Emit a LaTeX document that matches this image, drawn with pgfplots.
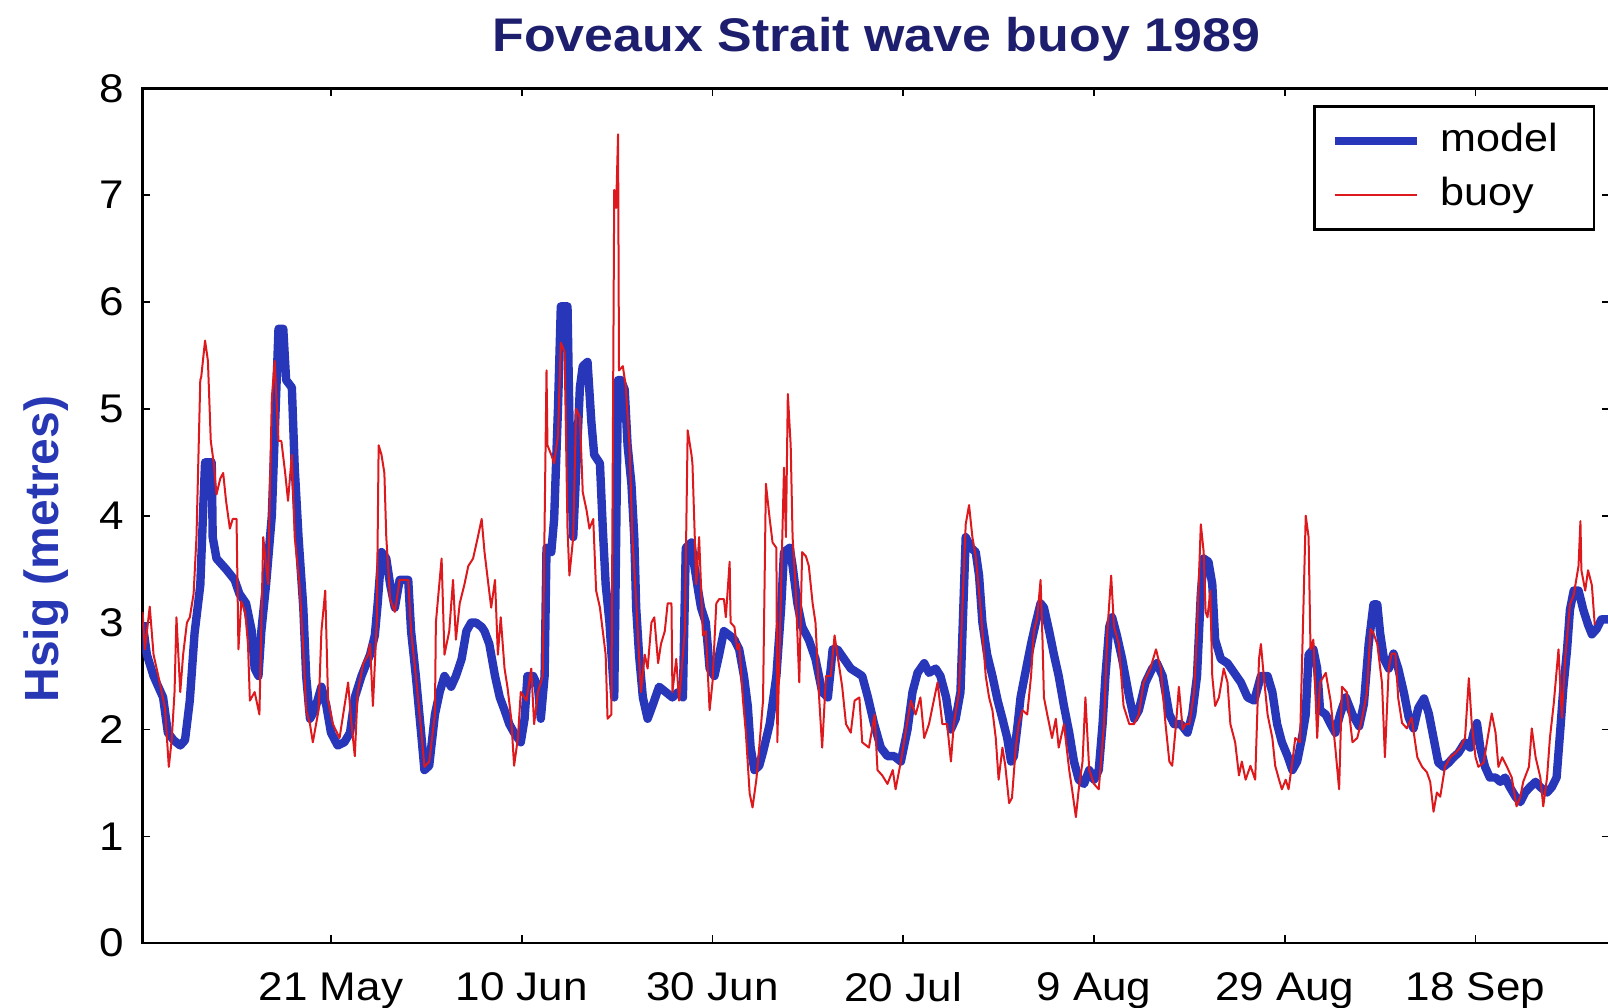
\documentclass[border=0pt]{standalone}
\usepackage{fontspec}
\setmainfont{Liberation Sans}[FakeStretch=1.1]
\newfontfamily\ylabfont{Liberation Sans}
\usepackage{pgfplots}
\usepackage{pgfplotstable}
\pgfplotsset{compat=1.18}
\definecolor{modelblue}{RGB}{40,55,185}
\definecolor{buoyred}{RGB}{222,25,30}
\definecolor{titlenavy}{RGB}{30,30,110}
\definecolor{labelblue}{RGB}{40,55,180}

\pgfplotstableread{
day hs
121.25 3.0
121.7 2.7
122.4 2.5
123.4 2.3
123.9 1.97
124.5 1.9
125.2 1.85
125.7 1.9
126.2 2.27
126.7 2.9
127.3 3.35
127.6 4.05
127.8 4.5
128.5 4.5
128.6 3.8
129.0 3.6
130.0 3.5
130.9 3.4
131.4 3.27
132.1 3.18
132.7 2.92
133.0 2.57
133.4 2.5
133.7 2.92
134.2 3.36
134.8 4.0
135.1 4.75
135.5 5.75
136.0 5.75
136.3 5.27
136.9 5.2
137.2 4.45
137.6 3.8
138.1 3.14
138.4 2.5
138.8 2.1
139.3 2.18
140.0 2.4
140.5 2.23
141.0 1.97
141.7 1.85
142.4 1.88
143.0 1.97
143.5 2.3
144.2 2.5
145.1 2.7
145.6 2.88
145.9 3.18
146.3 3.66
146.8 3.6
147.2 3.36
147.7 3.14
148.2 3.4
149.1 3.4
149.4 2.92
149.9 2.5
150.5 1.92
150.8 1.62
151.3 1.66
151.9 2.14
152.4 2.35
152.9 2.5
153.6 2.4
154.1 2.5
154.7 2.66
155.2 2.92
155.7 3.0
156.2 3.0
156.8 2.96
157.1 2.92
157.6 2.8
158.2 2.5
158.7 2.3
159.2 2.18
159.7 2.05
160.2 1.97
160.9 1.88
161.3 2.1
161.6 2.5
162.2 2.5
162.7 2.4
163.0 2.1
163.4 2.5
163.6 3.7
164.1 3.66
164.4 3.97
164.8 5.0
165.1 5.96
165.8 5.96
166.0 4.92
166.4 3.8
166.7 4.4
167.1 5.2
167.4 5.4
167.9 5.44
168.3 4.88
168.6 4.57
169.2 4.49
169.5 3.88
169.8 3.36
170.2 3.0
170.7 2.3
171.1 5.27
171.4 5.27
171.8 5.18
172.1 4.66
172.5 4.3
172.8 3.8
173.0 3.14
173.3 2.7
173.7 2.3
174.2 2.1
174.7 2.22
175.4 2.4
176.1 2.35
176.8 2.3
177.4 2.35
177.9 2.3
178.2 3.7
178.8 3.75
179.1 3.53
179.5 3.3
179.8 3.14
180.3 3.0
180.7 2.57
181.2 2.5
181.7 2.7
182.2 2.92
182.8 2.88
183.3 2.84
183.8 2.75
184.3 2.5
184.7 2.22
185.0 1.83
185.4 1.62
185.9 1.66
186.3 1.79
187.0 2.05
187.7 2.5
188.2 3.14
188.5 3.66
189.1 3.7
189.4 3.53
189.9 3.18
190.4 2.96
191.1 2.84
191.8 2.66
192.5 2.35
193.1 2.3
193.6 2.75
194.1 2.75
194.8 2.66
195.5 2.57
196.2 2.53
196.7 2.5
197.3 2.3
197.95 2.05
198.65 1.83
199.35 1.75
200.05 1.75
200.75 1.7
201.45 2.0
201.97 2.35
202.5 2.53
203.2 2.62
203.7 2.53
204.4 2.57
204.9 2.5
205.5 2.3
206.0 2.0
206.5 2.1
207.0 2.35
207.3 3.14
207.55 3.8
208.1 3.7
208.6 3.66
208.95 3.44
209.3 3.0
209.8 2.7
210.35 2.5
210.9 2.27
211.4 2.1
211.9 1.92
212.3 1.7
212.6 1.75
213.0 2.05
213.3 2.3
213.8 2.53
214.4 2.8
214.9 3.0
215.4 3.18
215.75 3.14
216.3 2.92
216.8 2.7
217.3 2.5
217.85 2.22
218.4 1.97
218.9 1.7
219.4 1.53
219.95 1.49
220.5 1.62
221.0 1.53
221.5 1.62
221.9 2.05
222.2 2.5
222.6 2.96
222.9 3.05
223.4 2.88
223.95 2.66
224.7 2.3
225.2 2.1
225.7 2.18
226.4 2.44
227.1 2.57
227.6 2.62
228.2 2.5
228.9 2.14
229.4 2.05
230.1 2.05
230.8 1.97
231.3 2.14
231.8 2.5
232.2 3.27
232.5 3.6
233.0 3.57
233.4 3.36
233.7 2.84
234.3 2.66
235.0 2.62
235.7 2.53
236.4 2.44
237.1 2.3
237.8 2.27
238.5 2.5
239.2 2.5
239.7 2.35
240.2 2.05
240.7 1.88
241.3 1.75
241.8 1.62
242.3 1.7
242.8 1.92
243.2 2.14
243.5 2.7
244.0 2.75
244.4 2.57
244.7 2.18
245.3 2.14
245.8 2.05
246.3 1.97
246.8 2.14
247.4 2.3
248.1 2.14
248.8 2.03
249.3 2.24
249.8 2.8
250.3 3.17
250.7 3.17
251.0 2.9
251.4 2.66
251.9 2.57
252.4 2.71
252.9 2.57
253.5 2.34
254.0 2.11
254.5 2.01
255.0 2.2
255.6 2.29
256.1 2.15
256.6 1.92
257.1 1.69
257.65 1.65
258.2 1.69
258.7 1.74
259.2 1.78
259.9 1.88
260.45 1.83
260.8 1.97
261.15 2.06
261.5 1.83
262.0 1.65
262.5 1.55
263.1 1.55
263.6 1.51
264.1 1.55
264.6 1.46
265.2 1.37
265.7 1.32
266.2 1.41
266.7 1.46
267.3 1.51
267.8 1.46
268.5 1.41
269.0 1.46
269.5 1.55
269.9 2.01
270.2 2.38
270.6 2.75
270.9 3.12
271.3 3.3
271.8 3.3
272.3 3.12
272.8 2.98
273.2 2.89
273.7 2.94
274.2 3.03
275.1 3.03
}\modeltable

\pgfplotstableread{
day hs
121.25 3.1
121.5 2.75
122.0 3.15
122.4 2.7
122.9 2.5
123.6 2.2
124.0 1.65
124.3 1.9
124.6 2.35
124.8 3.05
125.2 2.35
125.5 2.7
125.9 3.0
126.2 3.05
126.6 3.27
126.9 3.8
127.3 5.27
127.4 5.3
127.8 5.64
128.1 5.45
128.4 4.7
128.7 4.5
129.0 4.2
129.4 4.35
129.7 4.4
130.0 4.14
130.4 3.88
130.7 3.97
131.1 3.97
131.3 2.75
131.6 3.2
132.0 3.1
132.3 2.8
132.5 2.27
133.0 2.35
133.5 2.14
133.9 3.8
134.2 3.53
134.4 3.36
134.8 5.1
135.1 5.45
135.5 4.7
135.8 4.7
136.2 4.4
136.5 4.14
136.9 4.57
137.2 3.8
137.7 3.36
138.1 2.75
138.4 2.18
138.8 2.05
139.1 1.88
139.7 2.18
140.0 2.92
140.4 3.3
140.7 2.27
141.2 2.05
141.9 1.92
142.8 2.44
143.1 2.1
143.5 1.75
143.8 2.35
144.4 2.62
144.9 2.7
145.1 2.8
145.4 2.22
145.8 3.0
146.0 4.66
146.3 4.57
146.6 4.4
146.8 3.8
147.2 3.22
147.7 3.1
148.2 3.4
149.1 3.4
149.4 2.92
149.9 2.5
150.5 1.95
150.8 1.65
151.3 1.7
151.9 2.14
152.0 3.0
152.6 3.6
152.9 2.7
153.4 2.92
153.8 3.4
154.1 2.84
154.5 3.18
155.0 3.36
155.4 3.53
155.9 3.6
156.4 3.8
156.8 3.97
157.1 3.66
157.5 3.36
157.8 3.14
158.2 3.4
158.5 2.7
158.8 3.05
159.2 2.57
159.5 2.4
159.9 2.1
160.2 1.66
160.6 1.92
160.9 2.35
161.5 2.27
162.0 2.57
162.3 2.05
162.7 2.35
163.2 2.5
163.6 5.36
163.7 4.66
164.1 4.57
164.4 4.49
164.8 4.75
165.1 5.62
165.5 5.53
165.8 3.88
166.0 3.44
166.4 3.8
166.7 5.0
167.1 4.92
167.4 4.22
167.8 4.05
168.1 3.88
168.5 3.97
168.8 3.3
169.2 3.14
169.5 2.92
169.8 2.7
170.0 2.1
170.4 2.14
170.7 7.05
170.9 6.88
171.1 7.57
171.2 5.36
171.6 5.4
171.9 5.22
172.3 4.66
172.6 3.8
173.0 3.2
173.5 2.35
173.9 2.7
174.2 2.57
174.6 3.0
174.9 3.05
175.3 2.62
175.6 2.8
176.0 2.92
176.3 3.18
176.7 3.18
176.8 2.35
177.2 2.66
177.5 2.27
178.1 2.92
178.4 4.8
178.8 4.57
178.9 4.49
179.3 3.36
179.6 3.8
180.0 2.88
180.3 2.92
180.7 2.18
181.0 2.44
181.4 3.18
181.7 3.22
182.2 3.22
182.4 3.05
182.8 3.57
182.9 3.0
183.3 2.96
183.6 2.75
183.8 2.8
184.2 2.27
184.5 1.97
184.9 1.4
185.2 1.27
185.6 1.53
185.9 1.83
186.3 2.27
186.6 4.3
187.0 3.97
187.3 3.75
187.7 3.7
187.8 1.88
188.2 3.36
188.5 4.45
188.7 3.8
188.9 5.14
189.2 4.66
189.4 3.8
189.7 3.36
190.1 2.44
190.4 3.66
190.8 3.62
191.1 3.53
191.5 3.18
191.8 3.0
192.2 2.27
192.5 1.83
192.9 2.5
193.4 2.5
193.8 2.88
194.1 2.7
194.6 2.4
195.0 2.05
195.5 1.97
195.9 2.27
196.4 2.3
196.7 1.88
197.4 1.83
198.0 2.14
198.3 1.62
198.8 1.57
199.35 1.49
199.9 1.62
200.2 1.44
200.75 1.7
201.3 2.0
201.8 2.27
202.3 2.14
202.8 2.3
203.2 1.92
203.7 2.05
204.2 2.27
204.6 2.44
205.1 2.05
205.6 2.05
206.0 1.7
206.3 2.05
206.85 2.35
207.2 3.14
207.55 3.92
207.9 4.1
208.25 3.8
208.6 3.62
209.1 3.14
209.65 2.5
210.0 2.3
210.35 2.18
210.7 1.92
211.0 1.53
211.4 1.83
211.7 1.66
212.1 1.31
212.4 1.36
212.8 1.83
213.1 2.05
213.5 2.18
214.0 2.14
214.4 2.5
214.7 2.92
215.05 3.05
215.4 3.4
215.6 2.84
215.75 2.3
216.1 2.14
216.6 1.92
217.0 2.1
217.3 1.83
217.85 2.05
218.4 1.62
218.7 1.44
219.1 1.18
219.4 1.44
219.8 1.7
220.1 2.3
220.5 1.62
221.0 1.49
221.5 1.44
222.05 2.05
222.4 2.92
222.8 3.44
223.1 2.96
223.6 2.8
224.1 2.22
224.7 2.05
225.2 2.05
225.7 2.14
226.2 2.44
226.9 2.57
227.5 2.75
228.0 2.57
228.5 2.05
228.9 1.7
229.2 1.66
229.6 2.05
229.9 2.4
230.3 2.0
230.6 2.05
231.0 2.05
231.5 2.35
231.8 2.92
232.2 3.92
232.5 3.66
232.7 3.1
232.9 3.05
233.2 3.3
233.4 2.5
233.7 2.22
234.1 2.3
234.6 2.57
235.0 2.44
235.3 2.05
235.8 1.88
236.2 1.57
236.5 1.7
236.9 1.53
237.4 1.66
237.9 1.53
238.3 2.66
238.5 2.8
238.8 2.5
239.2 2.14
239.7 1.92
240.0 1.66
240.4 1.53
240.7 1.44
241.1 1.53
241.4 1.44
241.8 1.7
242.1 1.92
242.6 1.88
243.2 4.0
243.5 3.8
243.7 2.75
244.0 2.84
244.4 1.92
244.7 2.44
245.3 2.53
245.8 2.27
246.3 1.83
246.7 1.44
247.0 2.4
247.5 2.35
248.1 1.88
248.6 1.92
249.1 2.1
249.6 2.34
250.0 2.94
250.3 2.9
250.7 2.8
251.2 2.43
251.5 1.74
251.9 2.57
252.2 2.71
252.6 2.71
252.9 2.29
253.3 2.06
253.8 2.01
254.3 2.11
254.9 1.74
255.4 1.65
255.9 1.6
256.25 1.51
256.6 1.23
256.95 1.41
257.3 1.37
257.8 1.65
258.35 1.74
258.9 1.78
259.4 1.83
259.9 1.92
260.3 2.48
260.6 2.06
261.0 1.74
261.3 1.65
261.85 1.69
262.2 1.88
262.7 2.15
263.1 1.97
263.4 1.65
263.8 1.74
264.3 1.65
264.8 1.55
265.3 1.28
265.7 1.37
266.0 1.51
266.6 1.65
266.9 2.01
267.3 1.74
267.8 1.55
268.1 1.28
268.5 1.55
268.8 1.92
269.2 2.24
269.7 2.75
270.05 2.11
270.4 2.66
270.9 3.17
271.3 3.26
271.8 3.53
272.0 3.95
272.1 3.49
272.5 3.3
272.8 3.49
273.2 3.35
273.5 2.98
}\buoytable

\begin{document}
\begin{tikzpicture}
\begin{axis}[
  name=ax,
  scale only axis,
  width=366.9pt, height=213.7pt,
  xmin=121.23, xmax=275.1,
  ymin=0, ymax=8,
  xtick={141,161,181,201,221,241,261},
  xticklabels={21 May,10 Jun,30 Jun,20 Jul,9 Aug,29 Aug,18 Sep},
  ytick={0,1,2,3,4,5,6,7,8},
  tick align=inside,
  major tick length=2pt,
  every tick/.style={black, line width=0.4pt},
  axis line style={black, line width=0.65pt},
  /pgf/number format/assume math mode=true,
  tick label style={font=\fontsize{10}{12}\selectfont, black},
  xticklabel style={yshift=-3.7pt},
  yticklabel style={xshift=-1pt},
  every axis title/.style={at={(0.5,1)}, anchor=base, yshift=9.3pt,
     font=\bfseries\fontsize{11.8}{14}\selectfont, color=titlenavy},
  title={Foveaux Strait wave buoy 1989},
  every axis y label/.style={at={(axis description cs:-0.0657,0.461)}, rotate=90, anchor=center,
     font=\ylabfont\bfseries\fontsize{12}{14}\selectfont, color=labelblue},
  ylabel={Hsig (metres)},
  legend cell align=left,
  legend image code/.code={\draw[#1] (0pt,0pt) -- (20.5pt,0pt);},
  legend style={at={(1,1)}, anchor=north east, xshift=-3.75pt, yshift=-4.2pt,
     draw=black, line width=0.6pt, fill=white,
     font=\fontsize{9.8}{11}\selectfont,
     inner xsep=4pt, inner ysep=1.9pt, column sep=2.9pt,
     nodes={text height=7.5pt, text depth=2.2pt, inner ysep=1.9pt, inner xsep=2pt}},
]
\addplot[modelblue, line width=2.1pt, line join=round] table[x=day, y=hs] {\modeltable};
\addlegendentry{model\rule{3pt}{0pt}}
\addplot[buoyred, line width=0.5pt, line join=round] table[x=day, y=hs] {\buoytable};
\addlegendentry{buoy\rule{3pt}{0pt}}
\end{axis}
\pgfresetboundingbox
\path[use as bounding box] ([xshift=-35.6pt,yshift=-16.2pt]ax.south west) rectangle ([xshift=-0.5pt,yshift=22.1pt]ax.north east);
\end{tikzpicture}
\end{document}
